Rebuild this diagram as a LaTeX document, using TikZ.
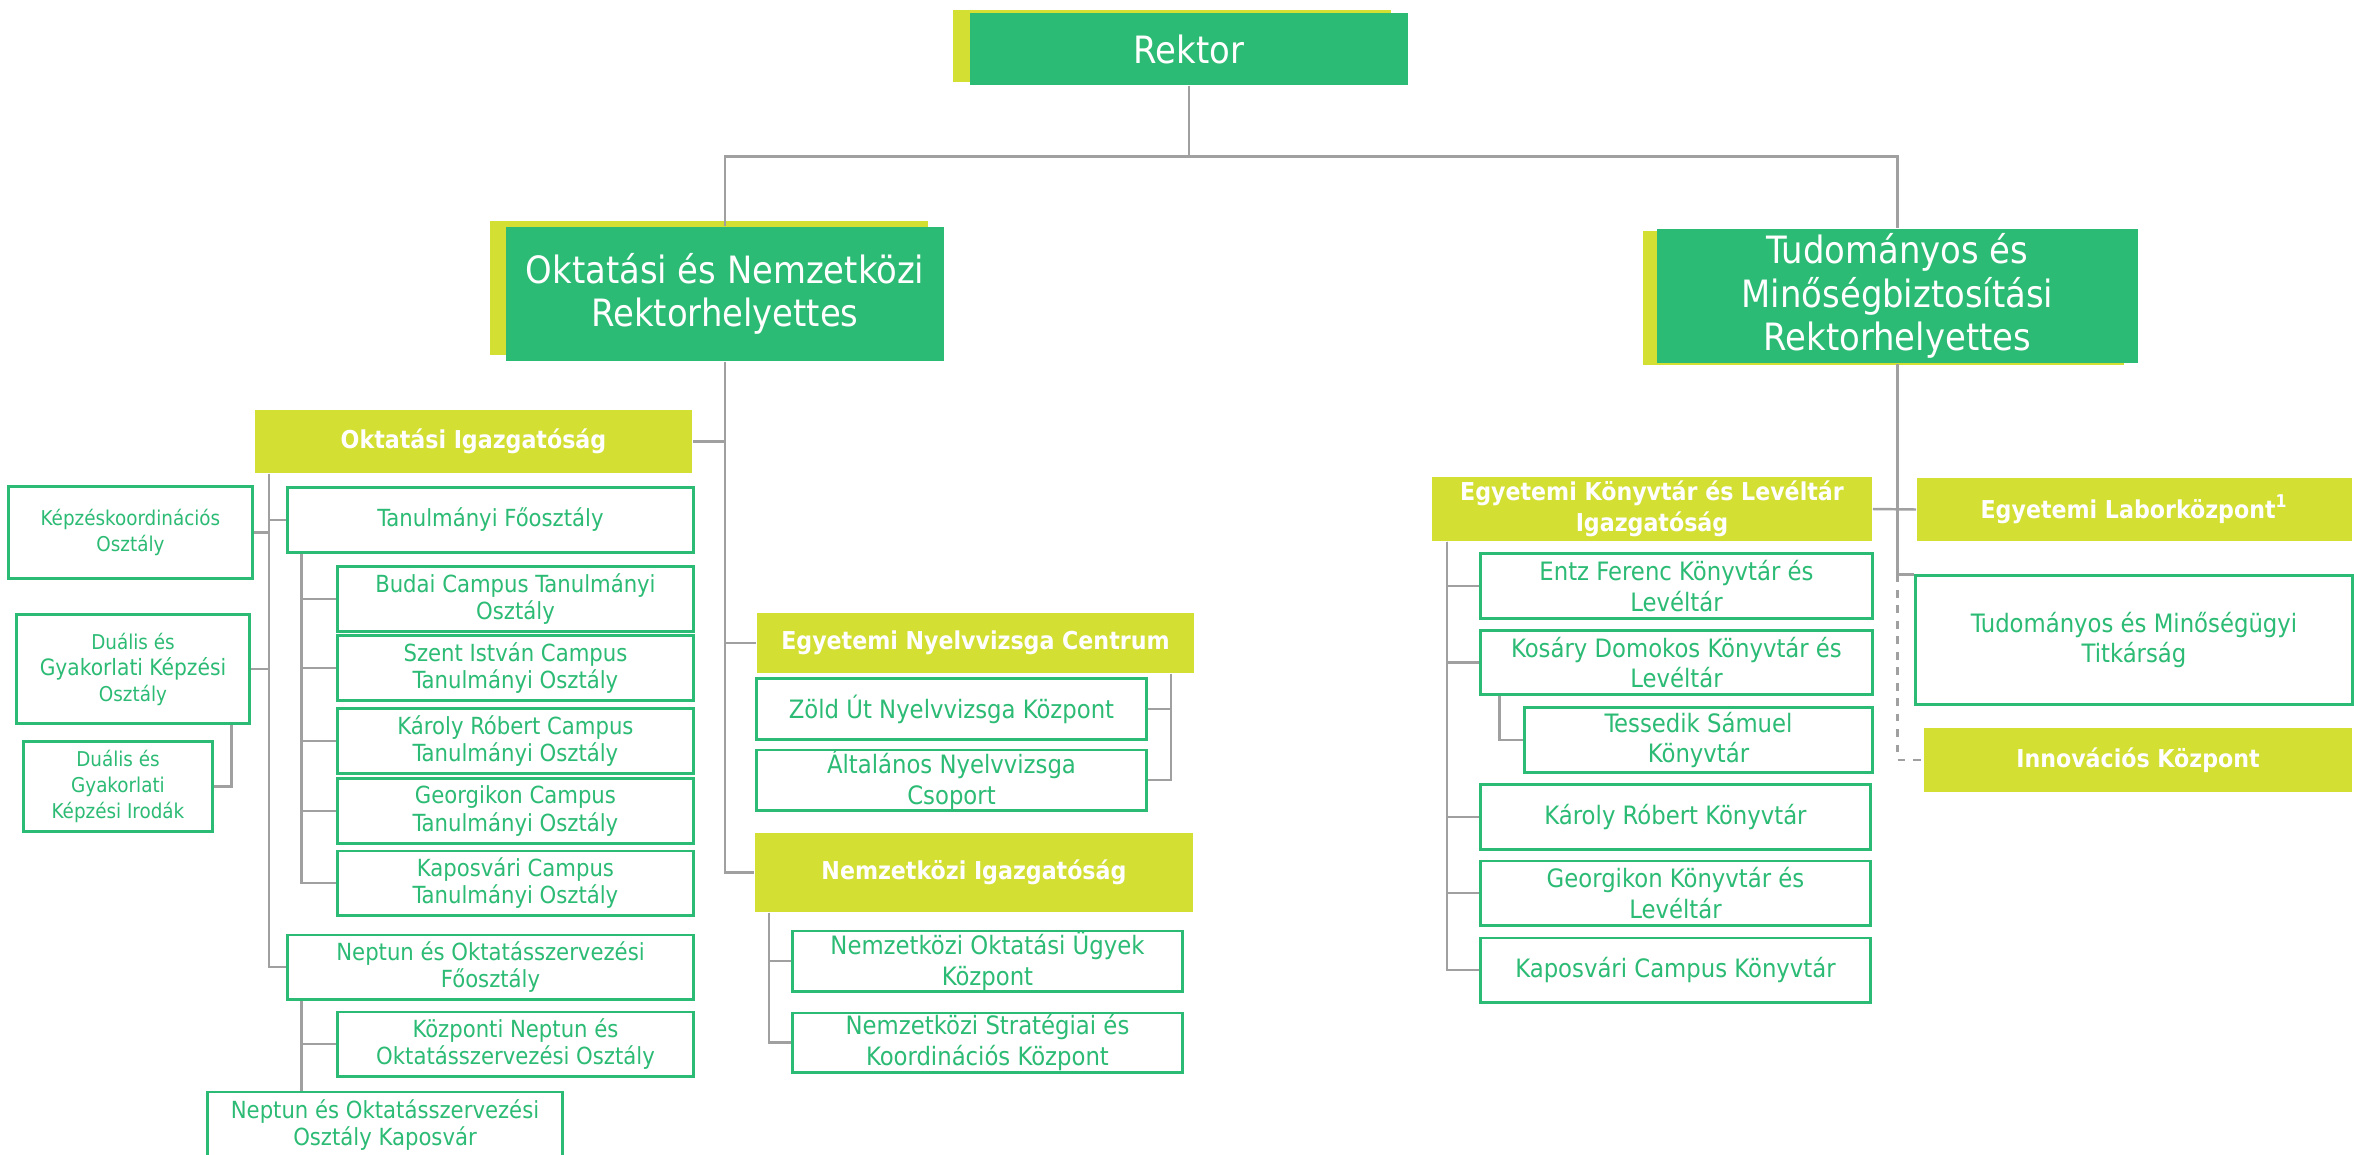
\documentclass[tikz,border=0pt]{standalone}
\usepackage{fontspec}
\setmainfont{DejaVu Sans Condensed}
\usepackage{tikz}
\usetikzlibrary{shadows}

\definecolor{zold}{HTML}{2CBB74}
\definecolor{sarga}{HTML}{D4DF33}
\definecolor{szurke}{HTML}{A0A0A0}

\begin{document}
\begin{tikzpicture}[x=0.01cm, y=-0.01cm,
		vezeto/.style={rectangle, fill=zold, text=white, align=center, inner sep=0pt, font=\fontsize{10.7}{12.3}\selectfont},
		igazg/.style={rectangle, fill=sarga, text=white, align=center, inner sep=0pt, font=\bfseries\fontsize{7}{8.8}\selectfont},
		egyseg/.style={rectangle, draw=zold, line width=0.85pt, text=zold, align=center, inner sep=0pt, font=\fontsize{7.2}{8.6}\selectfont},
		kicsi/.style={egyseg, font=\fontsize{6.7}{7.7}\selectfont},
		apro/.style={egyseg, font=\fontsize{5.8}{7.4}\selectfont},
		vonal/.style={draw=szurke, line width=0.7pt},
		szaggatott/.style={vonal, dash pattern=on 2.2pt off 2.2pt}
		]
	\useasboundingbox[fill=white] (0,0) rectangle (2354,1154);

		% --- Vezetők ---
		\node[vezeto, minimum width=4.38cm, minimum height=0.72cm, general shadow={fill=sarga, shadow xshift=-0.17cm, shadow yshift=0.03cm}] (Rektor) at (1189,49) {Rektor};
		\node[vezeto, minimum width=4.38cm, minimum height=1.34cm, general shadow={fill=sarga, shadow xshift=-0.16cm, shadow yshift=0.06cm}] (OktRH) at (725,294) {Oktatási és Nemzetközi\\Rektorhelyettes};
		\node[vezeto, minimum width=4.81cm, minimum height=1.34cm, general shadow={fill=sarga, shadow xshift=-0.14cm, shadow yshift=-0.02cm}] (TudRH) at (1897.5,296) {Tudományos és\\Minőségbiztosítási\\Rektorhelyettes};

		% --- Oktatási Igazgatóság ---
		\node[igazg, minimum width=4.37cm, minimum height=0.63cm] (OktIg) at (473.5,441.5) {Oktatási Igazgatóság};
		\node[apro, minimum width=2.43cm, minimum height=0.91cm] (Kepz) at (130.5,532.5) {Képzéskoordinációs\\Osztály};
		\node[apro, minimum width=2.32cm, minimum height=1.08cm] (DualO) at (133,669) {Duális és\\{\fontsize{6.4}{7.6}\selectfont Gyakorlati Képzési}\\Osztály};
		\node[apro, minimum width=1.88cm, minimum height=0.89cm] (Irodak) at (118,786.5) {Duális és\\Gyakorlati\\Képzési Irodák};
		\node[kicsi, minimum width=4.05cm, minimum height=0.64cm] (TanFo) at (490.5,520) {Tanulmányi Főosztály};
		\node[kicsi, minimum width=3.55cm, minimum height=0.64cm] (Budai) at (515.5,599) {Budai Campus Tanulmányi\\Osztály};
		\node[kicsi, minimum width=3.55cm, minimum height=0.64cm] (SzIst) at (515.5,668) {Szent István Campus\\Tanulmányi Osztály};
		\node[kicsi, minimum width=3.55cm, minimum height=0.64cm] (KarRob) at (515.5,741) {Károly Róbert Campus\\Tanulmányi Osztály};
		\node[kicsi, minimum width=3.55cm, minimum height=0.64cm] (Georg) at (515.5,811) {Georgikon Campus\\Tanulmányi Osztály};
		\node[kicsi, minimum width=3.55cm, minimum height=0.64cm] (Kapos) at (515.5,883) {Kaposvári Campus\\Tanulmányi Osztály};
		\node[kicsi, minimum width=4.05cm, minimum height=0.64cm] (NepFo) at (490.5,967) {Neptun és Oktatásszervezési\\Főosztály};
		\node[kicsi, minimum width=3.55cm, minimum height=0.64cm] (KozNep) at (515.5,1044) {Központi Neptun és\\Oktatásszervezési Osztály};
		\node[kicsi, minimum width=3.54cm, minimum height=0.66cm] (NepKap) at (385,1125) {Neptun és Oktatásszervezési\\Osztály Kaposvár};

		% --- Nyelvvizsga és Nemzetközi ---
		\node[igazg, minimum width=4.37cm, minimum height=0.6cm] (ENC) at (975.5,643) {Egyetemi Nyelvvizsga Centrum};
		\node[egyseg, minimum width=3.89cm, minimum height=0.6cm] (Zold) at (951.5,709) {Zöld Út Nyelvvizsga Központ};
		\node[egyseg, minimum width=3.89cm, minimum height=0.6cm] (Alt) at (951.5,780) {Általános Nyelvvizsga\\Csoport};
		\node[igazg, minimum width=4.38cm, minimum height=0.79cm] (NemzIg) at (974,872.5) {Nemzetközi Igazgatóság};
		\node[egyseg, minimum width=3.89cm, minimum height=0.6cm] (NOUK) at (987.5,961) {Nemzetközi Oktatási Ügyek\\Központ};
		\node[egyseg, minimum width=3.89cm, minimum height=0.59cm] (NSKK) at (987.5,1042.5) {Nemzetközi Stratégiai és\\Koordinációs Központ};

		% --- Tudományos ág ---
		\node[igazg, minimum width=4.4cm, minimum height=0.64cm] (EKLI) at (1652,509) {Egyetemi Könyvtár és Levéltár\\Igazgatóság};
		\node[igazg, minimum width=4.35cm, minimum height=0.63cm] (Labor) at (2134.5,509.5) {Egyetemi Laborközpont\textsuperscript{1}};
		\node[egyseg, minimum width=4.36cm, minimum height=1.28cm] (Titk) at (2134,640) {Tudományos és Minőségügyi\\Titkárság};
		\node[igazg, minimum width=4.28cm, minimum height=0.64cm] (Innov) at (2138,760) {Innovációs Központ};
		\node[egyseg, minimum width=3.91cm, minimum height=0.64cm] (Entz) at (1676.5,586) {Entz Ferenc Könyvtár és\\Levéltár};
		\node[egyseg, minimum width=3.91cm, minimum height=0.63cm] (Kosary) at (1676.5,662.5) {Kosáry Domokos Könyvtár és\\Levéltár};
		\node[egyseg, minimum width=3.47cm, minimum height=0.64cm] (Tess) at (1698.5,740) {Tessedik Sámuel\\Könyvtár};
		\node[egyseg, minimum width=3.89cm, minimum height=0.64cm] (KRK) at (1675.5,817) {Károly Róbert Könyvtár};
		\node[egyseg, minimum width=3.89cm, minimum height=0.64cm] (GKL) at (1675.5,893) {Georgikon Könyvtár és\\Levéltár};
		\node[egyseg, minimum width=3.89cm, minimum height=0.64cm] (KCK) at (1675.5,970) {Kaposvári Campus Könyvtár};

		% Vonalak felül
		\draw[vonal] (Rektor.south) -- ++(0,71) -| (OktRH.north);
		\draw[vonal] (Rektor.south) -- ++(0,71) -| (TudRH.north);

		% Oktatási ág törzse
		\draw[vonal] (OktRH.south) |- (NemzIg.west);
		\draw[vonal] (OktIg.east) -- (OktIg.east -| OktRH.south);
		\draw[vonal] (ENC.west) -- (ENC.west -| OktRH.south);

		\coordinate (t1) at ([xshift=0.15cm]OktIg.south west);
		\draw[vonal] (t1) |- (NepFo.west);
		\draw[vonal] (t1) |- (TanFo.west);
		\draw[vonal] (Kepz.east) -- (Kepz.east -| t1);
		\draw[vonal] (DualO.east) -- (DualO.east -| t1);
		\draw[vonal] (Irodak.east) -| ([xshift=-0.19cm]DualO.south east);

		\coordinate (t2) at ([xshift=0.15cm]TanFo.south west);
		\draw[vonal] (t2) |- (Budai.west);
		\draw[vonal] (t2) |- (SzIst.west);
		\draw[vonal] (t2) |- (KarRob.west);
		\draw[vonal] (t2) |- (Georg.west);
		\draw[vonal] (t2) |- (Kapos.west);

		\coordinate (t3) at ([xshift=0.15cm]NepFo.south west);
		\draw[vonal] (t3) |- (KozNep.west);
		\draw[vonal] (t3) -- (t3 |- NepKap.north);

		\coordinate (e1) at ([xshift=-0.24cm]ENC.south east);
		\draw[vonal] (e1) |- (Alt.east);
		\draw[vonal] (Zold.east) -- (Zold.east -| e1);

		\coordinate (n1) at ([xshift=0.15cm]NemzIg.south west);
		\draw[vonal] (n1) |- (NOUK.west);
		\draw[vonal] (n1) |- (NSKK.west);

		% Tudományos ág törzse
		\draw[vonal] (TudRH.south) |- (Titk.north west);
		\draw[vonal] (EKLI.east) -- (Labor.west);
		\draw[szaggatott] (TudRH.south |- Titk.north west) |- (Innov.west);

		\coordinate (k1) at ([xshift=0.16cm]EKLI.south west);
		\draw[vonal] (k1) |- (Entz.west);
		\draw[vonal] (k1) |- (Kosary.west);
		\draw[vonal] (k1) |- (KRK.west);
		\draw[vonal] (k1) |- (GKL.west);
		\draw[vonal] (k1) |- (KCK.west);

		\coordinate (k2) at ([xshift=0.2cm]Kosary.south west);
		\draw[vonal] (k2) |- (Tess.west);

	\end{tikzpicture}
\end{document}
